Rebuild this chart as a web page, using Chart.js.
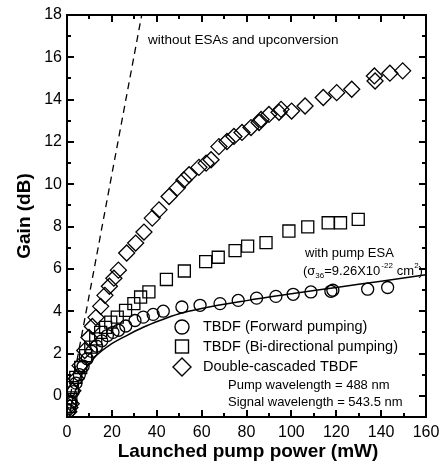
<!DOCTYPE html>
<html>
<head>
<meta charset="utf-8">
<script src="https://cdn.jsdelivr.net/npm/chart.js@4.4.0/dist/chart.umd.min.js"></script>
<style>
  html, body { margin: 0; padding: 0; background: #fff; }
</style>
</head>
<body>
<canvas id="gainChart" width="446" height="465"></canvas>
<script>
// TBDF, forward pumping (circles)
const forwardX = [1.0, 1.8, 2.8, 4.0, 5.5, 7.2, 9.0, 11.0, 13.2, 15.5, 18.0, 20.5, 23.0, 26.2, 30.3, 34.0, 38.4, 42.9, 51.2, 59.3, 68.2, 76.3, 84.5, 93.1, 100.8, 108.7, 117.6, 118.5, 134.0, 142.9];
const forwardY = [-0.7, -0.3, 0.2, 0.6, 1.0, 1.4, 1.75, 2.1, 2.35, 2.6, 2.85, 3.0, 3.1, 3.3, 3.56, 3.72, 3.85, 4.0, 4.2, 4.28, 4.36, 4.51, 4.62, 4.7, 4.8, 4.91, 4.94, 4.99, 5.04, 5.12];

// TBDF, bi-directional pumping (squares)
const bidirX = [1.2, 1.7, 2.4, 3.9, 6.1, 8.3, 10.6, 12.8, 15.0, 17.2, 19.5, 22.4, 26.1, 29.8, 32.8, 36.5, 44.3, 52.3, 61.8, 67.4, 74.9, 80.5, 88.7, 98.9, 107.3, 116.4, 121.9, 129.8];
const bidirY = [-0.5, -0.1, 0.39, 0.87, 1.34, 1.9, 2.3, 2.69, 3.0, 3.24, 3.48, 3.72, 4.04, 4.36, 4.67, 4.91, 5.5, 5.9, 6.34, 6.55, 6.86, 7.08, 7.24, 7.79, 7.99, 8.18, 8.18, 8.34];

// Double-cascaded TBDF (diamonds)
const cascX = [0.8, 1.3, 1.9, 2.6, 4.1, 5.8, 7.9, 9.8, 11.3, 12.9, 15.0, 16.9, 18.9, 20.9, 22.9, 26.6, 30.6, 34.3, 38.0, 41.0, 45.5, 49.2, 52.1, 54.4, 58.8, 62.0, 64.2, 67.7, 71.3, 74.4, 78.0, 82.0, 85.6, 86.5, 90.0, 94.5, 95.4, 100.1, 106.1, 114.2, 120.2, 126.9, 137.0, 137.3, 143.9, 149.6];
const cascY = [-0.75, -0.55, -0.37, 0.24, 0.81, 1.43, 2.14, 2.76, 3.28, 3.71, 4.23, 4.75, 5.18, 5.56, 5.94, 6.75, 7.22, 7.74, 8.4, 8.79, 9.42, 9.83, 10.2, 10.45, 10.8, 11.0, 11.16, 11.78, 12.02, 12.26, 12.45, 12.68, 12.92, 13.06, 13.3, 13.4, 13.54, 13.46, 13.7, 14.1, 14.33, 14.49, 15.12, 14.88, 15.25, 15.36];

// simulation with pump ESA (solid curve)
const esaX = [0.8, 1.3, 2.0, 3.0, 4.3, 6.0, 8.8, 13.0, 19.0, 26.6, 34.0, 41.4, 50.0, 60.0, 80.0, 100.0, 120.0, 140.0, 160.0];
const esaY = [-1.0, -0.85, -0.4, 0.0, 0.4, 0.9, 1.35, 1.9, 2.4, 2.85, 3.24, 3.56, 3.88, 4.13, 4.5, 4.82, 5.12, 5.42, 5.72];

// without ESAs and upconversion (dashed)
const idealX = [1.5, 33.3];
const idealY = [0.0, 18.0];

const xTicks = [0, 20, 40, 60, 80, 100, 120, 140, 160];
const yTicks = [0, 2, 4, 6, 8, 10, 12, 14, 16, 18];

const FONT = '"Liberation Sans", Arial, sans-serif';

function pts(xs, ys) {
  return xs.map((x, i) => ({ x: x, y: ys[i] }));
}

// frame, inward ticks on all four sides, labels and legend
const decorations = {
  id: 'decorations',
  afterDraw(chart) {
    const ctx = chart.ctx;
    const a = chart.chartArea;
    const xs = chart.scales.x, ys = chart.scales.y;
    ctx.save();
    ctx.strokeStyle = '#000';
    ctx.fillStyle = '#000';

    // minor + major ticks
    ctx.lineWidth = 2;
    ctx.beginPath();
    for (let v = 0; v <= 160; v += 10) {
      const px = Math.round(xs.getPixelForValue(v));
      const len = v % 20 === 0 ? 7 : 4;
      ctx.moveTo(px, a.bottom); ctx.lineTo(px, a.bottom - len);
      ctx.moveTo(px, a.top); ctx.lineTo(px, a.top + len);
    }
    for (let v = -1; v <= 18; v += 1) {
      const py = Math.round(ys.getPixelForValue(v));
      const len = v % 2 === 0 ? 7 : 4;
      ctx.moveTo(a.left, py); ctx.lineTo(a.left + len, py);
      ctx.moveTo(a.right, py); ctx.lineTo(a.right - len, py);
    }
    ctx.stroke();

    // frame
    ctx.lineWidth = 2;
    ctx.strokeRect(a.left, a.top, a.right - a.left, a.bottom - a.top);

    // axis titles
    ctx.font = 'bold 19px ' + FONT;
    ctx.textAlign = 'center';
    ctx.textBaseline = 'middle';
    ctx.fillText('Launched pump power (mW)', 248, 452);
    ctx.save();
    ctx.translate(25, 216);
    ctx.rotate(-Math.PI / 2);
    ctx.fillText('Gain (dB)', 0, 0);
    ctx.restore();

    // annotations
    ctx.textAlign = 'left';
    ctx.font = '13.5px ' + FONT;
    ctx.fillText('without ESAs and upconversion', 148, 40);
    ctx.font = '13px ' + FONT;
    ctx.fillText('with pump ESA', 305, 253);
    let tx = 303;
    const ty = 271;
    ctx.fillText('(\u03c3', tx, ty); tx += ctx.measureText('(\u03c3').width;
    ctx.font = '8px ' + FONT;
    ctx.fillText('36', tx, ty + 5); tx += ctx.measureText('36').width;
    ctx.font = '13px ' + FONT;
    ctx.fillText('=9.26X10', tx, ty); tx += ctx.measureText('=9.26X10').width;
    ctx.font = '8px ' + FONT;
    ctx.fillText('-22', tx + 1, ty - 5); tx += ctx.measureText('-22').width + 5;
    ctx.font = '13px ' + FONT;
    ctx.fillText('cm', tx, ty); tx += ctx.measureText('cm').width;
    ctx.font = '8px ' + FONT;
    ctx.fillText('2', tx, ty - 5); tx += ctx.measureText('2').width;
    ctx.font = '13px ' + FONT;
    ctx.fillText(')', tx, ty);

    // legend
    ctx.lineWidth = 1.4;
    const mx = 182;
    ctx.beginPath(); ctx.arc(mx, 327, 7, 0, Math.PI * 2); ctx.stroke();
    ctx.strokeRect(mx - 6.5, 340, 13, 13);
    ctx.beginPath();
    ctx.moveTo(mx, 358); ctx.lineTo(mx + 9, 367); ctx.lineTo(mx, 376); ctx.lineTo(mx - 9, 367);
    ctx.closePath(); ctx.stroke();

    ctx.font = '14.5px ' + FONT;
    ctx.fillText('TBDF (Forward pumping)', 203, 327);
    ctx.fillText('TBDF (Bi-directional pumping)', 203, 347);
    ctx.fillText('Double-cascaded TBDF', 203, 367);
    ctx.font = '13px ' + FONT;
    ctx.fillText('Pump wavelength = 488 nm', 228, 385);
    ctx.fillText('Signal wavelength = 543.5 nm', 228, 402);
    ctx.restore();
  }
};

const marker = { borderColor: '#000', backgroundColor: 'rgba(0,0,0,0)', borderWidth: 1.3, showLine: false };

new Chart(document.getElementById('gainChart'), {
  type: 'scatter',
  data: {
    datasets: [
      Object.assign({ label: 'TBDF (Forward pumping)', data: pts(forwardX, forwardY), pointStyle: 'circle', pointRadius: 6 }, marker),
      Object.assign({ label: 'TBDF (Bi-directional pumping)', data: pts(bidirX, bidirY), pointStyle: 'rect', pointRadius: 8.5 }, marker),
      Object.assign({ label: 'Double-cascaded TBDF', data: pts(cascX, cascY), pointStyle: 'rectRot', pointRadius: 8 }, marker),
      {
        label: 'with pump ESA',
        data: pts(esaX, esaY),
        showLine: true,
        pointRadius: 0,
        borderColor: '#000',
        borderWidth: 1.5,
        cubicInterpolationMode: 'monotone'
      },
      {
        label: 'without ESAs and upconversion',
        data: pts(idealX, idealY),
        showLine: true,
        pointRadius: 0,
        borderColor: '#000',
        borderWidth: 1.3,
        borderDash: [7, 5]
      }
    ]
  },
  options: {
    responsive: false,
    animation: false,
    devicePixelRatio: 1,
    layout: { padding: { top: 15, right: 20, left: 0, bottom: 0 } },
    plugins: { legend: { display: false }, tooltip: { enabled: false } },
    scales: {
      x: {
        type: 'linear',
        min: 0,
        max: 160,
        grid: { display: false, drawTicks: false },
        border: { display: false },
        afterBuildTicks: s => { s.ticks = xTicks.map(v => ({ value: v })); },
        afterFit: s => { s.height = 48; },
        ticks: { color: '#000', padding: 6, maxRotation: 0, autoSkip: false, font: { family: FONT, size: 16 } }
      },
      y: {
        type: 'linear',
        min: -1,
        max: 18,
        grid: { display: false, drawTicks: false },
        border: { display: false },
        afterBuildTicks: s => { s.ticks = yTicks.map(v => ({ value: v })); },
        afterFit: s => { s.width = 67; },
        ticks: { color: '#000', padding: 5, autoSkip: false, font: { family: FONT, size: 16 } }
      }
    }
  },
  plugins: [decorations]
});
</script>
</body>
</html>
